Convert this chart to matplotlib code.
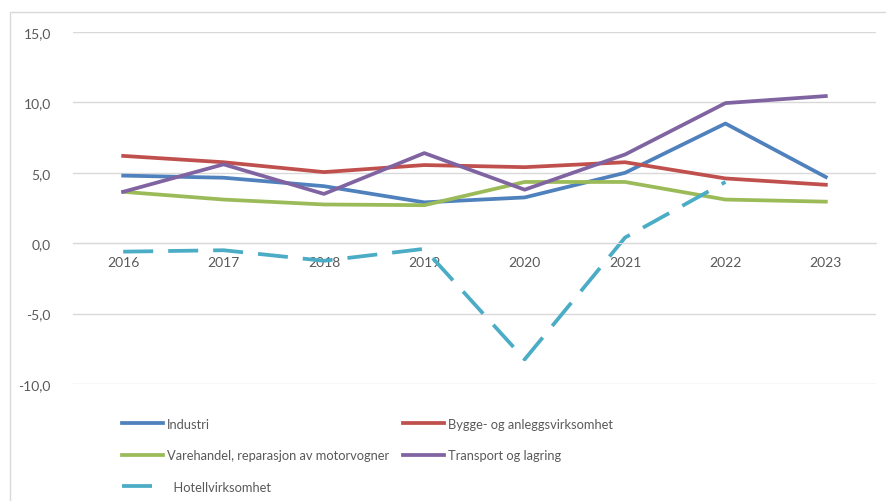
import matplotlib
matplotlib.use("Agg")
import matplotlib.patches
import matplotlib.pyplot as plt

years = ["2016", "2017", "2018", "2019", "2020", "2021", "2022", "2023"]

industri = [4.8, 4.65, 4.05, 2.9, 3.25, 5.0, 8.5, 4.7]
bygg = [6.2, 5.75, 5.05, 5.55, 5.4, 5.75, 4.6, 4.15]
varehandel = [3.65, 3.1, 2.75, 2.7, 4.35, 4.35, 3.1, 2.95]
transport = [3.65, 5.6, 3.5, 6.4, 3.8, 6.3, 9.95, 10.45]
hotell = [-0.6, -0.5, -1.25, -0.4, -8.25, 0.4, 4.35]

y_ticks = [-10, -5, 0, 5, 10, 15]

grey = "#595959"
plt.rcParams["font.family"] = ["Lato", "DejaVu Sans"]

fig = plt.figure(figsize=(8.86, 5.02), dpi=100)
ax = fig.add_axes([73 / 886, 117 / 502, 803 / 886, 352 / 502])

x = list(range(len(years)))
lw = 2.7
l_ind, = ax.plot(x, industri, color="#4F81BD", lw=lw, label="Industri")
l_byg, = ax.plot(x, bygg, color="#C0504D", lw=lw, label="Bygge- og anleggsvirksomhet")
l_var, = ax.plot(x, varehandel, color="#9BBB59", lw=lw,
                 label="Varehandel, reparasjon av motorvogner")
l_tra, = ax.plot(x, transport, color="#8064A2", lw=lw, label="Transport og lagring")
l_hot, = ax.plot(x[:len(hotell)], hotell, color="#4BACC6", lw=lw,
                 dashes=(8, 4), label="  Hotellvirksomhet")

ax.set_xlim(-0.5, len(years) - 0.5)
ax.set_ylim(-10, 15)
ax.set_yticks(y_ticks)
ax.set_yticklabels([f"{v:.1f}".replace(".", ",") for v in y_ticks])
ax.set_xticks(x)
ax.set_xticklabels(years)
ax.yaxis.grid(True, color="#d9d9d9", lw=1)
ax.set_axisbelow(True)
for s in ["top", "right", "left"]:
    ax.spines[s].set_visible(False)
ax.spines["bottom"].set_position(("data", 0))
ax.spines["bottom"].set_color("#d9d9d9")
ax.tick_params(axis="both", length=0, labelsize=10, colors=grey)
ax.tick_params(axis="y", pad=16)
ax.tick_params(axis="x", pad=9)

leg_kw = dict(frameon=False, fontsize=9.3, labelcolor=grey, handlelength=3.2,
              handletextpad=0.3, labelspacing=1.5, borderpad=0, borderaxespad=0)
fig.legend([l_ind, l_var, l_hot],
           [l_ind.get_label(), l_var.get_label(), l_hot.get_label()],
           loc="upper left", bbox_to_anchor=(122 / 886, 1 - 419 / 502), **leg_kw)
fig.legend([l_byg, l_tra], [l_byg.get_label(), l_tra.get_label()],
           loc="upper left", bbox_to_anchor=(403 / 886, 1 - 419 / 502), **leg_kw)

fig.patches.append(matplotlib.patches.Rectangle(
    (10 / 886, -0.1), 1.0, 1 - 13 / 502 + 0.1, transform=fig.transFigure,
    fill=False, edgecolor="#d9d9d9", lw=1))

fig.savefig("out.png", dpi=100)
